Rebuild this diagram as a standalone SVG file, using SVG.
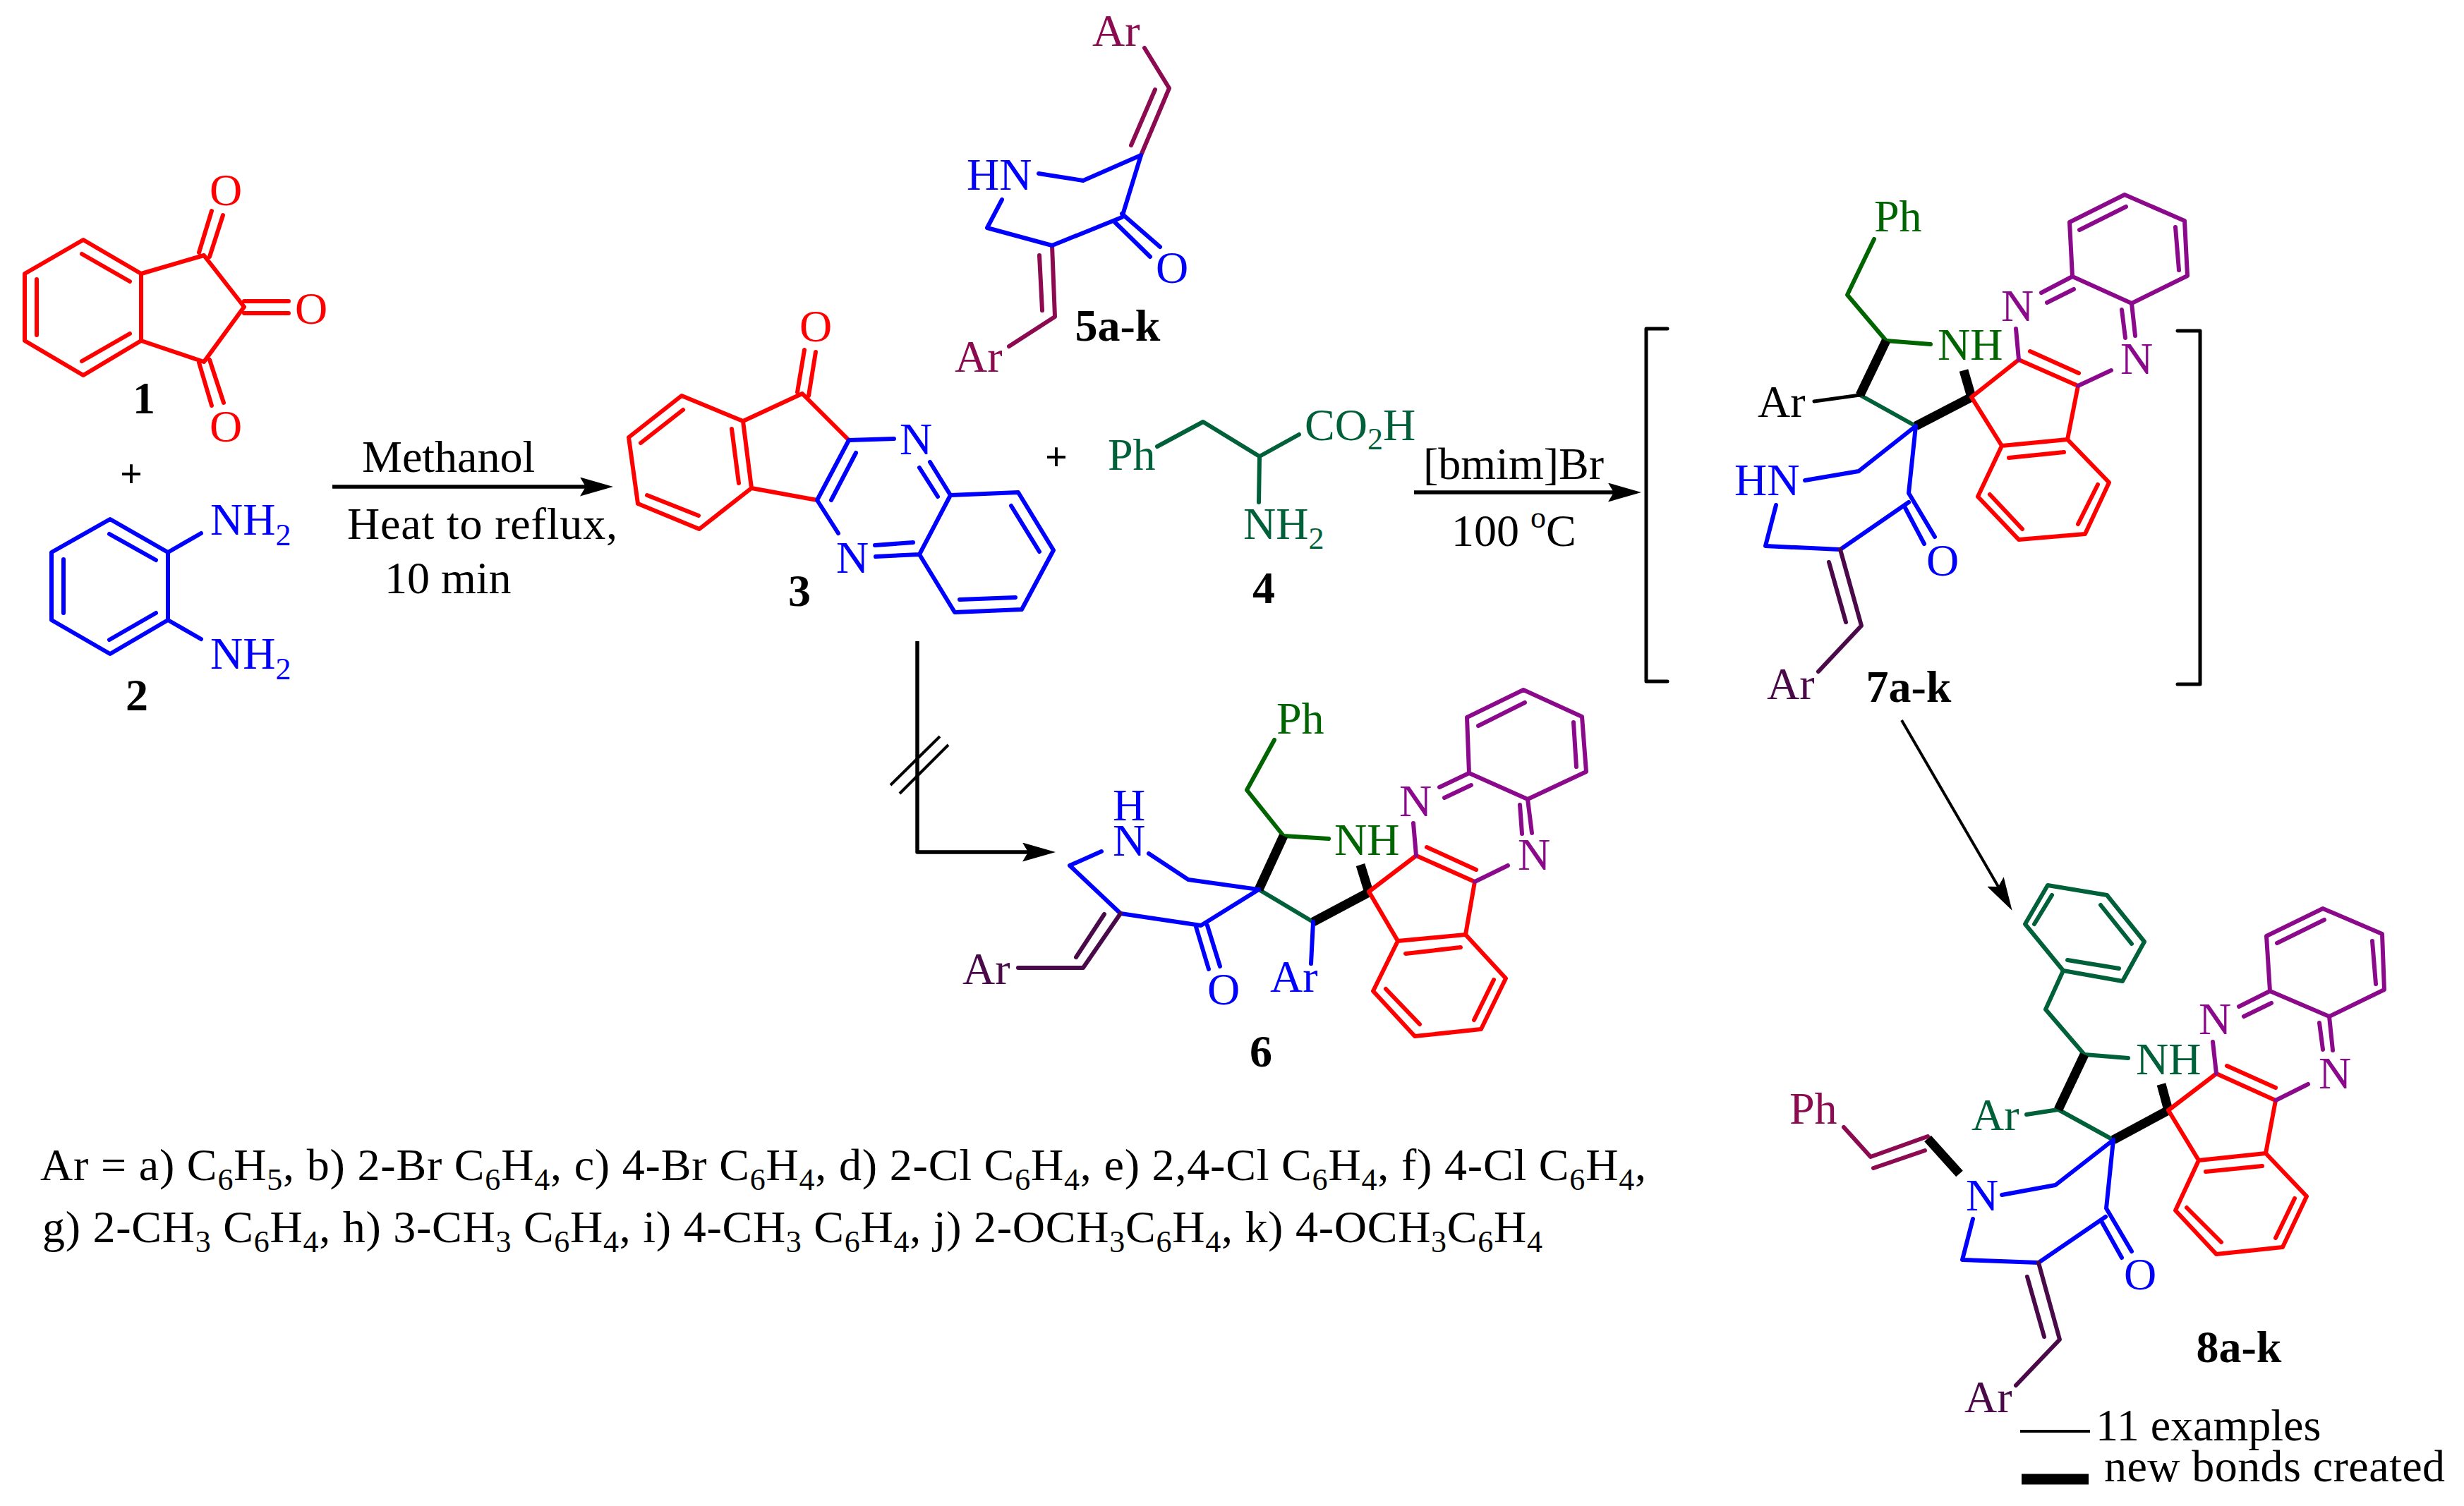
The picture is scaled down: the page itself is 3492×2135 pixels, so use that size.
<svg xmlns="http://www.w3.org/2000/svg" width="3492" height="2135" viewBox="0 0 3492 2135">
<style>
text{font-family:"Liberation Serif","Times New Roman",serif;font-size:64px;fill:#000}
tspan.s{font-size:44px}
text.l{font-weight:bold;text-anchor:middle}
text.p{font-size:56px;font-weight:bold;text-anchor:middle}
path{fill:none;stroke-width:6;stroke-linecap:round;stroke-linejoin:round}
.r{stroke:#f00}.b{stroke:#00f}.g{stroke:#00603a}.d{stroke:#006400}.m{stroke:#8b0a50}.v{stroke:#4a0a4a}.u{stroke:#8b0a8b}.n{stroke:#000;stroke-width:5}
.k{stroke:#000;stroke-width:13;stroke-linecap:butt;stroke-linejoin:miter}
.a{stroke:#000;stroke-width:5.5;stroke-linecap:butt}
.w{stroke:#000;stroke-width:4;stroke-linecap:butt}
text.R{fill:#f00}text.B{fill:#00f}text.G{fill:#00603a}text.D{fill:#006400}text.M{fill:#8b0a50}text.V{fill:#4a0a4a}text.U{fill:#8b0a8b}
</style>
<defs>
<marker id="h" markerUnits="userSpaceOnUse" markerWidth="47" markerHeight="27" refX="8" refY="13.5" orient="auto"><polygon points="0,0 47,13.5 0,27 8,13.5" fill="#000"/></marker>
</defs>

<g id="connectors">
<path class="a" d="M471 690H830" marker-end="url(#h)"/>
<path class="a" d="M2004 698H2287" marker-end="url(#h)"/>
<path class="a" d="M1300 909V1208H1457" marker-end="url(#h)"/>
<path class="w" d="M1262 1113L1332 1044M1275 1125L1344 1056"/>
<path class="w" d="M2695 1021L2832 1257" marker-end="url(#h)"/>
</g>

<g id="compound-1">
<path class="r" d="M118 340L200 388V483L118 532L35 483V388ZM116 360L184 399M52 396V475M116 512L184 473M200 388L289 362L346 435L289 513L200 483M282 358L300 299M297 364L316 305M282 514L300 575M297 510L317 571M346 427H409M346 444H409"/>
<text class="R" x="297" y="291">O</text><text class="R" x="297" y="626">O</text><text class="R" x="418" y="459">O</text>
<text class="l" x="204" y="586">1</text>
</g>
<text class="p" x="186" y="691">+</text>

<g id="compound-2">
<path class="b" d="M156 736L238 783V879L156 927L73 879V783ZM155 757L221 794M90 793V869M155 907L221 869M238 783L285 756M238 879L285 906"/>
<text class="B" x="298" y="758">NH<tspan class="s" dy="15">2</tspan></text>
<text class="B" x="298" y="948">NH<tspan class="s" dy="15">2</tspan></text>
<text class="l" x="194" y="1007">2</text>
</g>

<g id="arrow-1-labels">
<text x="513" y="669">Methanol</text>
<text x="492" y="764" textLength="383" lengthAdjust="spacing">Heat to reflux,</text>
<text x="545" y="841">10 min</text>
</g>

<g id="compound-3">
<path class="r" d="M966 561L1053 597L1065 692L991 750L904 714L891 620ZM968 581L908 628M1037 608L1047 685M917 702L990 731M1053 597L1137 558L1203 624M1065 692L1158 709M1130 556L1140 496M1146 561L1156 499"/>
<path class="b" d="M1203 624L1158 709L1188 756M1213 642L1178 709M1203 624L1267 622M1318 655L1347 702L1443 698L1493 780L1448 864L1353 868L1303 786L1347 702M1303 663L1329 704M1433 717L1473 782M1360 850L1439 847M1240 773L1294 769M1241 789L1303 786"/>
<text class="R" x="1133" y="484">O</text>
<text class="B" x="1275" y="644">N</text><text class="B" x="1185" y="812">N</text>
<text class="l" x="1133" y="859">3</text>
</g>
<text class="p" x="1497" y="667">+</text>

<g id="compound-5">
<path class="m" d="M1622 68L1657 125L1617 220M1637 127L1603 206M1491 348L1495 449L1430 491M1473 362L1477 440"/>
<path class="b" d="M1617 220L1535 256L1472 246M1420 283L1399 323L1491 348L1590 308L1617 220M1590 303L1644 350M1580 315L1630 364"/>
<text class="M" x="1548" y="65">Ar</text><text class="M" x="1353" y="527">Ar</text>
<text class="B" x="1370" y="269">HN</text><text class="B" x="1638" y="401">O</text>
<text class="l" x="1584" y="483">5a-k</text>
</g>

<g id="compound-4">
<path class="g" d="M1640 633L1705 598L1785 647L1841 616M1785 647L1784 712"/>
<text class="G" x="1570" y="666">Ph</text>
<text class="G" x="1849" y="624">CO<tspan class="s" dy="13">2</tspan><tspan dy="-13">H</tspan></text>
<text class="G" x="1762" y="764">NH<tspan class="s" dy="14">2</tspan></text>
<text class="l" x="1791" y="855">4</text>
</g>

<g id="arrow-2-labels">
<text x="2017" y="679">[bmim]Br</text>
<text x="2057" y="774">100 <tspan class="s" dy="-26">o</tspan><tspan dy="26">C</tspan></text>
</g>

<g id="compound-7">
<path class="n" d="M2363 466H2333V966H2363"/>
<path class="n" d="M3086 469H3118V970H3086"/>
<path class="d" d="M2656 339L2618 418L2673 483L2736 488"/>
<path class="g" d="M2636 560L2715 604"/>
<path class="n" d="M2571 569L2636 560"/>
<path class="k" d="M2673 483L2636 560M2715 604L2794 563M2783 525L2794 563"/>
<path class="b" d="M2715 604L2634 668L2558 681M2517 716L2502 774L2608 779L2705 712M2715 604L2705 699L2742 761M2699 718L2727 771"/>
<path class="v" d="M2608 779L2638 887L2577 952M2592 797L2616 882"/>
<path class="r" d="M2794 563L2861 510L2945 547L2930 623L2837 632ZM2877 498L2946 529M2837 632L2930 623L2989 684L2955 757L2861 765L2803 704ZM2847 649L2925 641M2973 687L2945 743M2866 750L2820 701"/>
<path class="u" d="M2861 510L2857 466M2945 547L2992 525M2893 415L2937 392L2933 315L3011 276L3096 313L3100 391L3021 430L2937 392M2901 429L2939 410M3021 430L3026 476M3007 439L3012 479M2947 326L3013 293M3083 322L3088 383"/>
<text class="D" x="2656" y="328">Ph</text><text class="D" x="2746" y="510">NH</text>
<text x="2491" y="591">Ar</text>
<text class="B" x="2458" y="702">HN</text><text class="B" x="2730" y="816">O</text>
<text class="V" x="2504" y="991">Ar</text>
<text class="U" x="2836" y="455">N</text><text class="U" x="3005" y="530">N</text>
<text class="l" x="2705" y="995">7a-k</text>
</g>

<g id="compound-6">
<path class="d" d="M1806 1049L1767 1120L1819 1185L1883 1189"/>
<path class="g" d="M1784 1261L1861 1307"/>
<path class="k" d="M1819 1185L1784 1261M1861 1307L1940 1265M1928 1226L1940 1265"/>
<path class="b" d="M1861 1307L1858 1366M1784 1261L1684 1247L1628 1210M1561 1207L1516 1227L1588 1295L1702 1312L1784 1261M1711 1312L1729 1370M1695 1314L1713 1374"/>
<path class="v" d="M1588 1295L1535 1372H1443M1565 1296L1525 1357"/>
<path class="r" d="M1940 1264L2007 1213L2090 1250L2077 1325L1981 1334ZM2022 1201L2092 1233M1981 1334L2077 1325L2134 1387L2099 1459L2005 1469L1946 1405ZM1992 1352L2070 1343M2117 1389L2089 1446M2012 1452L1964 1402"/>
<path class="u" d="M2007 1213L2003 1167M2090 1250L2137 1227M2040 1116L2082 1096L2079 1017L2159 978L2242 1016L2248 1094L2165 1133L2082 1096M2047 1131L2085 1113M2165 1133L2171 1181M2154 1141L2157 1182M2095 1029L2161 996M2230 1024L2234 1087"/>
<text class="D" x="1809" y="1040">Ph</text><text class="D" x="1891" y="1212">NH</text>
<text class="B" x="1800" y="1406">Ar</text>
<text class="B" x="1577" y="1163">H</text><text class="B" x="1577" y="1213">N</text><text class="B" x="1711" y="1424">O</text>
<text class="V" x="1364" y="1395">Ar</text>
<text class="U" x="1983" y="1157">N</text><text class="U" x="2151" y="1233">N</text>
<text class="l" x="1787" y="1512">6</text>
</g>

<g id="compound-8">
<path class="g" d="M2902 1255L2986 1269L3039 1335L3008 1391L2924 1376L2870 1310ZM2908 1269L2883 1310M2977 1283L3021 1338M3003 1373L2930 1361M2924 1376L2899 1431L2954 1495L3016 1500M2872 1580L2917 1573L2995 1616"/>
<path class="k" d="M2954 1495L2917 1573M2995 1616L3073 1574M3063 1537L3073 1574M2732 1614L2777 1664"/>
<path class="r" d="M3073 1574L3141 1522L3225 1560L3211 1635L3116 1645ZM3156 1511L3225 1542M3116 1645L3211 1635L3269 1696L3235 1768L3141 1778L3083 1716ZM3126 1661L3206 1653M3252 1699L3225 1755M3148 1761L3099 1712"/>
<path class="u" d="M3141 1522L3136 1477M3225 1560L3271 1537M3173 1427L3217 1405L3212 1327L3292 1288L3376 1324L3379 1403L3301 1441L3217 1405M3180 1441L3219 1422M3301 1441L3306 1489M3287 1450L3292 1488M3227 1337L3294 1304M3362 1334L3367 1395"/>
<path class="b" d="M2995 1616L2913 1680L2837 1694M2796 1728L2781 1786L2889 1790L2984 1725M2995 1616L2985 1713L3021 1774M2978 1731L3007 1783"/>
<path class="v" d="M2889 1790L2919 1899L2857 1964M2873 1810L2897 1895"/>
<path class="m" d="M2613 1598L2651 1640L2732 1611M2655 1656L2728 1631"/>
<text class="G" x="3027" y="1523">NH</text><text class="G" x="2794" y="1602">Ar</text>
<text class="U" x="3116" y="1466">N</text><text class="U" x="3286" y="1543">N</text>
<text class="M" x="2536" y="1593">Ph</text>
<text class="B" x="2786" y="1716">N</text><text class="B" x="3010" y="1828">O</text>
<text class="V" x="2784" y="2002">Ar</text>
<text class="l" x="3173" y="1931">8a-k</text>
</g>

<g id="legend">
<path class="w" d="M2863 2029H2962"/>
<text x="2970" y="2042">11 examples</text>
<path class="k" style="stroke-width:15" d="M2865 2097H2960"/>
<text x="2982" y="2100" textLength="483" lengthAdjust="spacing">new bonds created</text>
</g>

<g id="footnote">
<text x="57" y="1673" textLength="2276" lengthAdjust="spacing">Ar = a) C<tspan class="s" dy="14">6</tspan><tspan dy="-14">H</tspan><tspan class="s" dy="14">5</tspan><tspan dy="-14">, b) 2-Br C</tspan><tspan class="s" dy="14">6</tspan><tspan dy="-14">H</tspan><tspan class="s" dy="14">4</tspan><tspan dy="-14">, c) 4-Br C</tspan><tspan class="s" dy="14">6</tspan><tspan dy="-14">H</tspan><tspan class="s" dy="14">4</tspan><tspan dy="-14">, d) 2-Cl C</tspan><tspan class="s" dy="14">6</tspan><tspan dy="-14">H</tspan><tspan class="s" dy="14">4</tspan><tspan dy="-14">, e) 2,4-Cl C</tspan><tspan class="s" dy="14">6</tspan><tspan dy="-14">H</tspan><tspan class="s" dy="14">4</tspan><tspan dy="-14">, f) 4-Cl C</tspan><tspan class="s" dy="14">6</tspan><tspan dy="-14">H</tspan><tspan class="s" dy="14">4</tspan><tspan dy="-14">,</tspan></text>
<text x="60" y="1761" textLength="2126" lengthAdjust="spacing">g) 2-CH<tspan class="s" dy="14">3</tspan><tspan dy="-14"> C</tspan><tspan class="s" dy="14">6</tspan><tspan dy="-14">H</tspan><tspan class="s" dy="14">4</tspan><tspan dy="-14">, h) 3-CH</tspan><tspan class="s" dy="14">3</tspan><tspan dy="-14"> C</tspan><tspan class="s" dy="14">6</tspan><tspan dy="-14">H</tspan><tspan class="s" dy="14">4</tspan><tspan dy="-14">, i) 4-CH</tspan><tspan class="s" dy="14">3</tspan><tspan dy="-14"> C</tspan><tspan class="s" dy="14">6</tspan><tspan dy="-14">H</tspan><tspan class="s" dy="14">4</tspan><tspan dy="-14">, j) 2-OCH</tspan><tspan class="s" dy="14">3</tspan><tspan dy="-14">C</tspan><tspan class="s" dy="14">6</tspan><tspan dy="-14">H</tspan><tspan class="s" dy="14">4</tspan><tspan dy="-14">, k) 4-OCH</tspan><tspan class="s" dy="14">3</tspan><tspan dy="-14">C</tspan><tspan class="s" dy="14">6</tspan><tspan dy="-14">H</tspan><tspan class="s" dy="14">4</tspan></text>
</g>
</svg>
